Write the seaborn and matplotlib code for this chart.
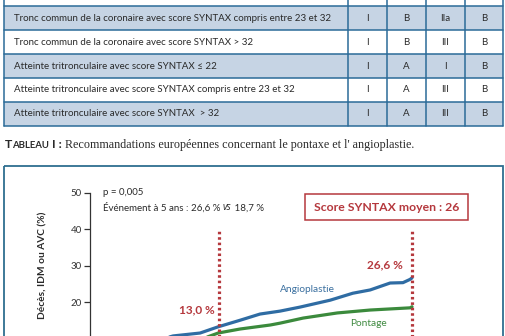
import numpy as np
import pandas as pd
import seaborn as sns
import matplotlib
matplotlib.use("Agg")
from matplotlib import pyplot as plt
from matplotlib.patches import Rectangle

# table rows
criteres = [
    "Tronc commun de la coronaire avec score SYNTAX compris entre 23 et 32",
    "Tronc commun de la coronaire avec score SYNTAX > 32",
    "Atteinte tritronculaire avec score SYNTAX ≤ 22",
    "Atteinte tritronculaire avec score SYNTAX compris entre 23 et 32",
    "Atteinte tritronculaire avec score SYNTAX  > 32",
]
pontage_classe = ["I", "I", "I", "I", "I"]
pontage_niveau = ["B", "B", "A", "A", "A"]
angio_classe = ["IIa", "III", "I", "III", "III"]
angio_niveau = ["B", "B", "B", "B", "B"]

# curves (years, cumulative events %)
angio_annees = [0, 0.25, 0.5, 1.0, 1.29, 1.71, 1.99, 2.33, 2.64, 2.95, 3.26, 3.73, 4.08, 4.35, 4.66, 4.86, 4.97, 5.0]
angio_valeurs = [0, 4.0, 6.5, 9.2, 10.7, 11.5, 13.2, 15.0, 16.7, 17.5, 18.6, 20.5, 22.4, 23.3, 25.2, 25.3, 26.2, 26.6]
pontage_annees = [0, 0.25, 0.5, 1.0, 1.5, 1.82, 1.99, 2.33, 2.80, 2.95, 3.31, 3.84, 4.35, 4.97, 5.0]
pontage_valeurs = [0, 4.0, 6.0, 8.0, 9.3, 10.4, 11.5, 12.6, 13.7, 14.2, 15.6, 17.0, 17.8, 18.4, 18.7]

y_ticks = [20, 30, 40, 50]

sns.set_style("white")
plt.rcParams['font.family'] = ['Lato', 'DejaVu Sans']

BLEU_BORD = '#2b6b98'
BLEU_LIGNE = '#c6d4e4'
ROUGE = '#b5383d'
TXT = '#2a2a2a'

fig = plt.figure(figsize=(5.06, 3.36), dpi=100)
bg = fig.add_axes([0, 0, 1, 1])
bg.set_xlim(0, 506)
bg.set_ylim(336, 0)
bg.axis('off')
renderer = fig.canvas.get_renderer()

# --- table ---
row_top = 6.3
row_h = 23.9
col_x = [4, 348, 387, 426, 465, 503]
for i, crit in enumerate(criteres):
    y0 = row_top + i * row_h
    if i % 2 == 0:
        bg.add_patch(Rectangle((col_x[0], y0), col_x[-1] - col_x[0], row_h,
                               facecolor=BLEU_LIGNE, edgecolor='none', zorder=1))
    yc = y0 + row_h / 2
    bg.text(14, yc, crit, fontsize=7.0, color=TXT, va='center', ha='left', zorder=3)
    for j, val in enumerate([pontage_classe[i], pontage_niveau[i], angio_classe[i], angio_niveau[i]]):
        bg.text((col_x[j + 1] + col_x[j + 2]) / 2, yc, val, fontsize=7.0, color=TXT,
                va='center', ha='center', zorder=3)
for k in range(len(criteres) + 1):
    yy = row_top + k * row_h
    bg.plot([col_x[0], col_x[-1]], [yy, yy], color=BLEU_BORD, lw=1.1, zorder=2)
for xx in col_x:
    bg.plot([xx, xx], [0, row_top + len(criteres) * row_h], color=BLEU_BORD, lw=1.1, zorder=2)

# --- caption ---
x = 5
for piece, size in [("T", 8.8), ("ABLEAU", 6.9), (" I :", 8.8)]:
    t = bg.text(x, 148, piece, fontsize=size, fontweight='bold', color=TXT,
                va='baseline', ha='left')
    x += t.get_window_extent(renderer).width
bg.text(x + 3, 148, "Recommandations européennes concernant le pontaxe et l' angioplastie.",
        fontsize=8.7, family=['Liberation Serif', 'DejaVu Serif'], color=TXT,
        va='baseline', ha='left')

# --- chart frame ---
bg.add_patch(Rectangle((4, 166), 499, 180, facecolor='none', edgecolor='#2e6e90', lw=1.3, zorder=2))

# --- chart ---
px_an = 64.4
px_pct = 3.65
x0_px, y0_px = 90, 375
ax = fig.add_axes([x0_px / 506, (336 - y0_px) / 336, 5.5 * px_an / 506, 50 * px_pct / 336])
ax.patch.set_alpha(0)

df = pd.concat([
    pd.DataFrame({'annee': angio_annees, 'valeur': angio_valeurs, 'groupe': 'Angioplastie'}),
    pd.DataFrame({'annee': pontage_annees, 'valeur': pontage_valeurs, 'groupe': 'Pontage'}),
])
sns.lineplot(data=df, x='annee', y='valeur', hue='groupe', ax=ax, lw=2.3,
             palette={'Angioplastie': '#2f6ca3', 'Pontage': '#3b8a3c'}, legend=False)

ax.vlines([2, 5], 0, 40, colors=ROUGE, linestyles=(0, (0.8, 0.9)), lw=2.3)

ax.set_xlim(0, 5.5)
ax.set_ylim(0, 50)
ax.set_yticks(y_ticks)
ax.set_yticklabels([str(v) for v in y_ticks])
ax.tick_params(axis='y', direction='out', length=4.5, width=0.9, color='#333333',
               labelsize=7, labelcolor='#333333', pad=1.5, left=True)
ax.set_xticks([])
for s in ['top', 'right', 'bottom']:
    ax.spines[s].set_visible(False)
ax.spines['left'].set_color('#333333')
ax.spines['left'].set_linewidth(0.9)
ax.set_xlabel('')
ax.set_ylabel('Décès, IDM ou AVC (%)', fontsize=7.3, fontweight='bold', color=TXT)
ax.yaxis.set_label_coords(-0.121, 0.60)

ax.text(0.2, 49.9, "p = 0,005", fontsize=7, color=TXT, va='center', ha='left')
# event line in pieces so that "vs" is italic
xd = 0.2
for piece, style, fam in [("Événement à 5 ans : 26,6 % ", 'normal', ['Lato']),
                          ("vs", 'italic', ['Open Sans', 'DejaVu Sans']),
                          (" 18,7 %", 'normal', ['Lato'])]:
    t = ax.text(xd, 45.8, piece, fontsize=7, fontstyle=style, family=fam, color=TXT,
                va='center', ha='left')
    xd += t.get_window_extent(renderer).width / px_an
ax.text(1.93, 17.8, "13,0 %", fontsize=8.5, fontweight='bold', color=ROUGE, va='center', ha='right')
ax.text(4.86, 30.2, "26,6 %", fontsize=8.5, fontweight='bold', color=ROUGE, va='center', ha='right')
ax.text(3.38, 23.5, "Angioplastie", fontsize=7.3, color='#3a6f9f', va='center', ha='center')
ax.text(4.32, 14.0, "Pontage", fontsize=7.3, color='#3f8a40', va='center', ha='center')

# score box
bg.add_patch(Rectangle((305, 194), 163, 26, facecolor='white', edgecolor=ROUGE, lw=1.1, zorder=3))
bg.text(386.5, 207.5, "Score SYNTAX moyen : 26", fontsize=8.8, fontweight='bold',
        color=ROUGE, va='center', ha='center', zorder=4)

fig.savefig('out.png', dpi=100)
